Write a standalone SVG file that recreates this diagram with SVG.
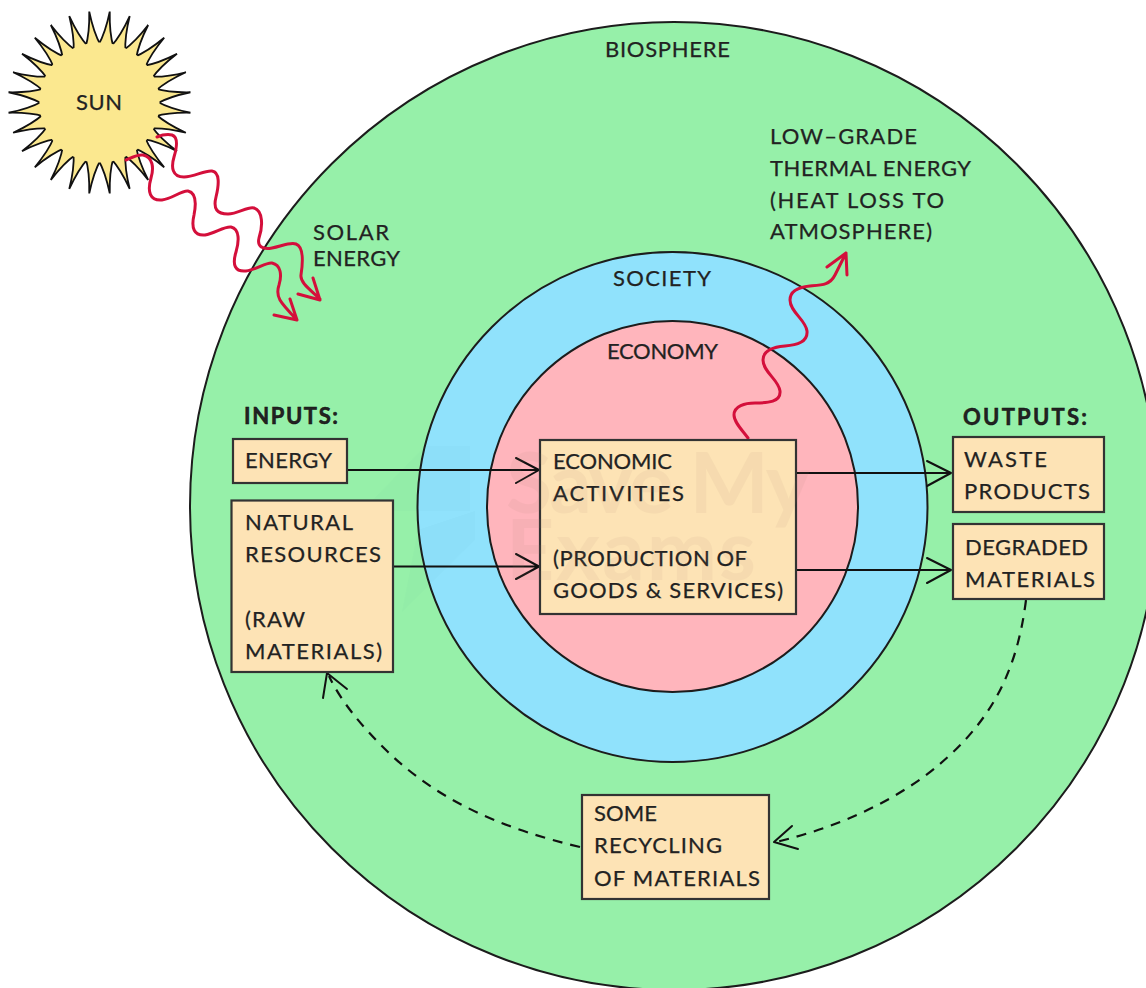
<svg xmlns="http://www.w3.org/2000/svg" width="1146" height="988" viewBox="0 0 1146 988">
<style>
text{font-family:"Lato","Open Sans","Liberation Sans",sans-serif;font-size:22px;fill:#222;stroke:#222;stroke-width:.25px}
.b{font-weight:700;stroke:#111;stroke-width:.5px}
.ring{stroke:#1c1c1c;stroke-width:2}
.box{fill:#fde3b5;stroke:#333;stroke-width:2.2}
.ln{fill:none;stroke:#111;stroke-width:2;stroke-linecap:round;stroke-linejoin:round}
.da{stroke-width:2.2;stroke-dasharray:10 8;stroke-linecap:butt}
.rd{fill:none;stroke:#d40f3b;stroke-width:3;stroke-linecap:round;stroke-linejoin:round}
.ray{fill:#fbe88f;stroke:#111;stroke-width:1.8;stroke-linejoin:miter}
.wm{font-size:84px;font-weight:700;fill:#a8806c;stroke:none;opacity:.08}
.logo{fill:#3d8f8f;opacity:.025}
</style>
<defs><path id="ray" class="ray" d="M-7.500-57Q-2-70 0-91.500Q2-70 7.500-57Z"/></defs>
<g id="biosphere"><circle class="ring" cx="674" cy="506" r="484" fill="#96f0a9"/><text x="605" y="57" textLength="125">BIOSPHERE</text></g>
<g id="society"><circle class="ring" cx="672.500" cy="507" r="255" fill="#90e2fc"/><text x="613" y="286" textLength="98">SOCIETY</text></g>
<g id="economy"><circle class="ring" cx="672.500" cy="506.500" r="185.500" fill="#ffb5bc"/><text x="607" y="359" textLength="111">ECONOMY</text></g>
<g id="sun" transform="translate(99.5 102.5)">
<use href="#ray" transform="rotate(6.43)"/><use href="#ray" transform="rotate(19.29)"/><use href="#ray" transform="rotate(32.14)"/><use href="#ray" transform="rotate(45)"/><use href="#ray" transform="rotate(57.86)"/><use href="#ray" transform="rotate(70.71)"/><use href="#ray" transform="rotate(83.57)"/><use href="#ray" transform="rotate(96.43)"/><use href="#ray" transform="rotate(109.29)"/><use href="#ray" transform="rotate(122.14)"/><use href="#ray" transform="rotate(135)"/><use href="#ray" transform="rotate(147.86)"/><use href="#ray" transform="rotate(160.71)"/><use href="#ray" transform="rotate(173.57)"/><use href="#ray" transform="rotate(186.43)"/><use href="#ray" transform="rotate(199.29)"/><use href="#ray" transform="rotate(212.14)"/><use href="#ray" transform="rotate(225)"/><use href="#ray" transform="rotate(237.86)"/><use href="#ray" transform="rotate(250.71)"/><use href="#ray" transform="rotate(263.57)"/><use href="#ray" transform="rotate(276.43)"/><use href="#ray" transform="rotate(289.29)"/><use href="#ray" transform="rotate(302.14)"/><use href="#ray" transform="rotate(315)"/><use href="#ray" transform="rotate(327.86)"/><use href="#ray" transform="rotate(340.71)"/><use href="#ray" transform="rotate(353.57)"/>
<circle r="60" fill="#fbe88f"/>
<text x="-23.500" y="7.500" textLength="46">SUN</text></g>
<path class="logo" d="M362 511L425 446L470 446L470 511ZM402 612L418 530L475 511L475 540Z"/>
<g id="connectors">
<path class="ln" d="M347 470H539M516 458L539 470L516 483"/>
<path class="ln" d="M393 566.500H539M516 554L539 566.500L516 579"/>
<path class="ln" d="M796 473H951M927 461L951 473L927 486"/>
<path class="ln" d="M796 570H951M927 558L951 570L927 583"/>
<path class="ln da" d="M1026 600C1016 680 985 730 925 776C885 805 835 828 776 842"/>
<path class="ln" d="M792 826L774 842L798 849"/>
<path class="ln da" d="M580 847C500 828 438 800 388 752C362 727 340 700 329 676"/>
<path class="ln" d="M323 698L327 673L347 689"/>
<path class="rd" d="M157 137C162 135 167 134 172 135C178 137 177 147 174 157C171 167 172 177 184 177C194 177 205 170 212 171C220 172 219 185 216 197C213 209 217 214 228 214C238 214 248 206 254 208C263 211 263 226 259 238C257 246 262 250 272 248C282 246 290 242 296 244C304 247 303 262 301 275C300 282 308 288 320 299M298 294L320 300L313 278"/>
<path class="rd" d="M126 160C131 158 137 154 143 155C153 157 154 168 151 178C147 192 150 201 162 200C172 199 182 190 188 191C197 193 196 205 194 215C191 228 194 236 205 235C215 233 225 226 231 227C240 229 239 242 236 252C232 265 235 272 246 271C256 270 266 262 272 263C281 265 282 275 279 285C275 297 280 302 297 320M274 315L297 320L290 299"/>
<path class="rd" d="M748 438C742 430 734 422 734 415C734 406 745 403 755 403C768 403 781 402 780 391C779 380 763 372 763 360C763 350 773 347 785 346C797 345 808 342 807 331C806 320 790 312 790 300C790 290 800 287 810 286C822 285 830 285 835 275L846 253M827 267L846 253L847 275"/>
</g>
<g id="solar-label"><text x="313" y="240" textLength="76">SOLAR</text><text x="313" y="266" textLength="87">ENERGY</text></g>
<g id="heat-label"><text x="770" y="144" textLength="147">LOW–GRADE</text><text x="770" y="176" textLength="201">THERMAL ENERGY</text><text x="770" y="208" textLength="174">(HEAT LOSS TO</text><text x="770" y="239" textLength="162">ATMOSPHERE)</text></g>
<g id="inputs-label"><text class="b" x="244" y="424" textLength="94">INPUTS:</text></g>
<g id="outputs-label"><text class="b" x="963" y="425" textLength="124">OUTPUTS:</text></g>
<g id="energy"><rect class="box" x="233" y="439" width="114" height="44"/><text x="245" y="468" textLength="87">ENERGY</text></g>
<g id="natural-resources"><rect class="box" x="231.500" y="500.500" width="161.500" height="171.500"/><text x="245" y="530" textLength="108">NATURAL</text><text x="245" y="562" textLength="136">RESOURCES</text><text x="245" y="627" textLength="60">(RAW</text><text x="245" y="659" textLength="137">MATERIALS)</text></g>
<g id="economic-activities"><rect class="box" x="540" y="440" width="256" height="174"/><text x="553" y="469" textLength="119">ECONOMIC</text><text x="553" y="501" textLength="131">ACTIVITIES</text><text x="553" y="566" textLength="194">(PRODUCTION OF</text><text x="553" y="598" textLength="230">GOODS &amp; SERVICES)</text></g>
<g id="waste-products"><rect class="box" x="953" y="437" width="151" height="75"/><text x="964" y="467" textLength="83">WASTE</text><text x="964" y="499" textLength="126">PRODUCTS</text></g>
<g id="degraded-materials"><rect class="box" x="953" y="524" width="151" height="75"/><text x="965" y="555" textLength="123">DEGRADED</text><text x="965" y="587" textLength="130">MATERIALS</text></g>
<g id="recycling"><rect class="box" x="582" y="795" width="187" height="104"/><text x="594" y="821" textLength="63">SOME</text><text x="594" y="853" textLength="128">RECYCLING</text><text x="594" y="886" textLength="166">OF MATERIALS</text></g>
<g id="watermark"><text class="wm" x="506" y="513" textLength="304">Save My</text><text class="wm" x="506" y="580" textLength="250">Exams</text></g>
</svg>
